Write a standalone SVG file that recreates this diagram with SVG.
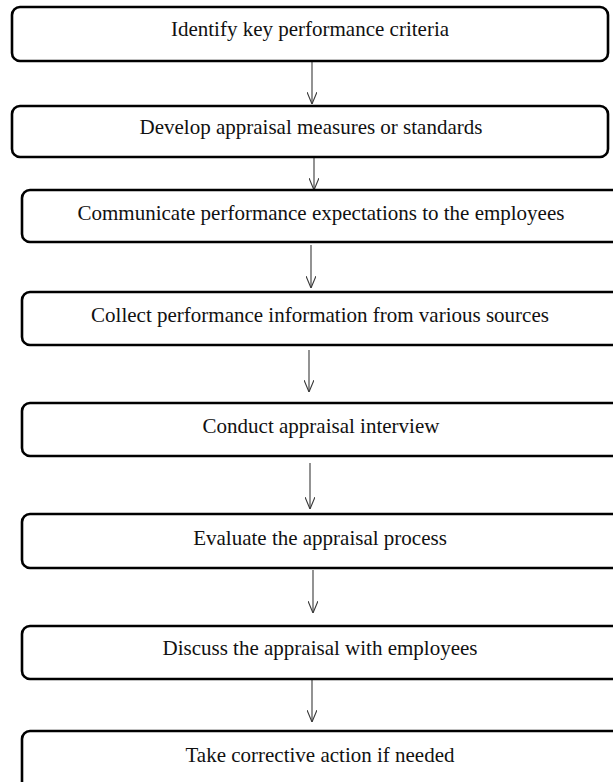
<svg xmlns="http://www.w3.org/2000/svg" width="613" height="782" viewBox="0 0 613 782">
  <style>
    .box { fill: #ffffff; stroke: #000000; stroke-width: 2.6; }
    .lbl { font-family: "Liberation Serif", "Times New Roman", serif; font-size: 21px; fill: #111111; text-anchor: middle; }
    .conn { stroke: #3a3a3a; stroke-width: 1.1; fill: none; }
  </style>
  <defs>
    <marker id="arrow" viewBox="0 0 12 10" refX="12" refY="5" markerWidth="12" markerHeight="10" markerUnits="userSpaceOnUse" orient="auto">
      <path d="M0,0 L12,5 L0,10" fill="none" stroke="#3a3a3a" stroke-width="1.1"/>
    </marker>
  </defs>
  <rect x="0" y="0" width="613" height="782" fill="#ffffff"/>

  <g id="connectors">
    <line class="conn" x1="312" y1="62" x2="312" y2="104" marker-end="url(#arrow)"/>
    <line class="conn" x1="314" y1="150" x2="314" y2="190" marker-end="url(#arrow)"/>
    <line class="conn" x1="311" y1="245" x2="311" y2="288" marker-end="url(#arrow)"/>
    <line class="conn" x1="309" y1="350" x2="309" y2="392" marker-end="url(#arrow)"/>
    <line class="conn" x1="310" y1="463" x2="310" y2="509" marker-end="url(#arrow)"/>
    <line class="conn" x1="313" y1="570" x2="313" y2="613" marker-end="url(#arrow)"/>
    <line class="conn" x1="312" y1="680" x2="312" y2="722" marker-end="url(#arrow)"/>
  </g>

  <g id="node1">
    <rect class="box" x="12" y="7" width="596" height="54" rx="8"/>
    <text class="lbl" x="310" y="36">Identify key performance criteria</text>
  </g>
  <g id="node2">
    <rect class="box" x="12" y="106" width="596" height="51" rx="8"/>
    <text class="lbl" x="311" y="134">Develop appraisal measures or standards</text>
  </g>
  <g id="node3">
    <rect class="box" x="22" y="190" width="598" height="52" rx="8"/>
    <text class="lbl" x="321" y="220">Communicate performance expectations to the employees</text>
  </g>
  <g id="node4">
    <rect class="box" x="22" y="292" width="598" height="53" rx="8"/>
    <text class="lbl" x="320" y="322">Collect performance information from various sources</text>
  </g>
  <g id="node5">
    <rect class="box" x="22" y="403" width="598" height="53" rx="8"/>
    <text class="lbl" x="321" y="433">Conduct appraisal interview</text>
  </g>
  <g id="node6">
    <rect class="box" x="22" y="514" width="598" height="54" rx="8"/>
    <text class="lbl" x="320" y="545">Evaluate the appraisal process</text>
  </g>
  <g id="node7">
    <rect class="box" x="22" y="626" width="598" height="53" rx="8"/>
    <text class="lbl" x="320" y="655">Discuss the appraisal with employees</text>
  </g>
  <g id="node8">
    <rect class="box" x="22" y="731" width="598" height="62" rx="8"/>
    <text class="lbl" x="320" y="762">Take corrective action if needed</text>
  </g>
</svg>
